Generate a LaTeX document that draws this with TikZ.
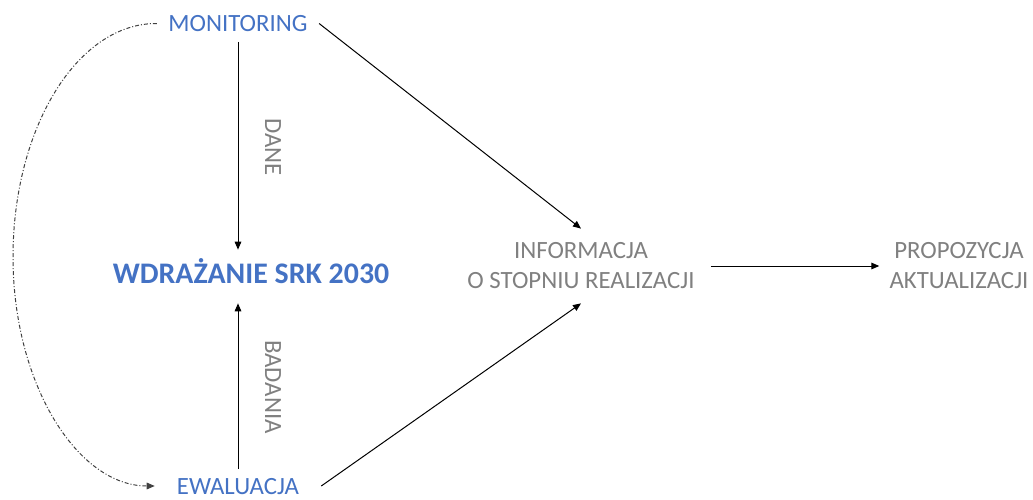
\documentclass[tikz,border=0pt]{standalone}
\usepackage{fontspec}
\setmainfont{Carlito}
\usetikzlibrary{arrows.meta}
\definecolor{hblue}{HTML}{4472C4}
\definecolor{tgray}{HTML}{808080}
\definecolor{lgray}{HTML}{404040}
\begin{document}
\begin{tikzpicture}[x=0.75pt,y=-0.75pt,
  reg/.style={font=\fontsize{18.6}{22.5}\selectfont},
  oneline/.style={reg, text height=12pt, text depth=0pt},
  bluet/.style={oneline, text=hblue},
  grayt/.style={reg, text=tgray, align=center},
  arr/.style={line width=0.75pt, -{Triangle[length=6pt,width=5pt]}},
  dashdot/.style={line width=0.75pt, lgray, dash pattern=on 3pt off 1.5pt on 0.75pt off 1.5pt, -{Triangle[length=6pt,width=5pt]}}
]
\useasboundingbox (0,0) rectangle (1033,500);

\node[bluet, inner xsep=8.5pt, inner ysep=7.5pt] (mon) at (238,23.5) {MONITORING};
\node[bluet, inner xsep=16.5pt, inner ysep=6.5pt] (ewa) at (238,486) {EWALUACJA};
\node[font=\fontsize{22.4}{27}\selectfont\bfseries, text=hblue, text height=14.4pt, text depth=0pt, inner xsep=2pt, inner ysep=10.5pt] (wdr) at (251,273.5) {WDRAŻANIE SRK 2030};
\node[oneline, text=tgray, rotate=-90] (dane) at (273,147) {DANE};
\node[oneline, text=tgray, rotate=-90] (bad) at (273,387) {BADANIA};
\node[grayt, inner xsep=12pt, inner ysep=10.5pt] (info) at (581,266) {INFORMACJA\\O STOPNIU REALIZACJI};
\node[grayt, inner xsep=7.5pt, inner ysep=8pt] (prop) at (959,266) {PROPOZYCJA\\AKTUALIZACJI};

\coordinate (left) at (13,257);

\draw[arr] (mon.south) -- (mon.south |- wdr.north);
\draw[arr, shorten >=4.5pt] (ewa.north) -- (ewa.north |- wdr.south);
\draw[arr] (mon.east) -- (info.north);
\draw[arr] (ewa.east) -- (info.south);
\draw[arr] (info.east) -- (prop.west |- info.east);
\draw[dashdot] (mon.west) .. controls (77.5,23) and (13,127.8) .. (left)
  .. controls (13,384) and (77.5,486) .. (ewa.west);
\end{tikzpicture}
\end{document}
